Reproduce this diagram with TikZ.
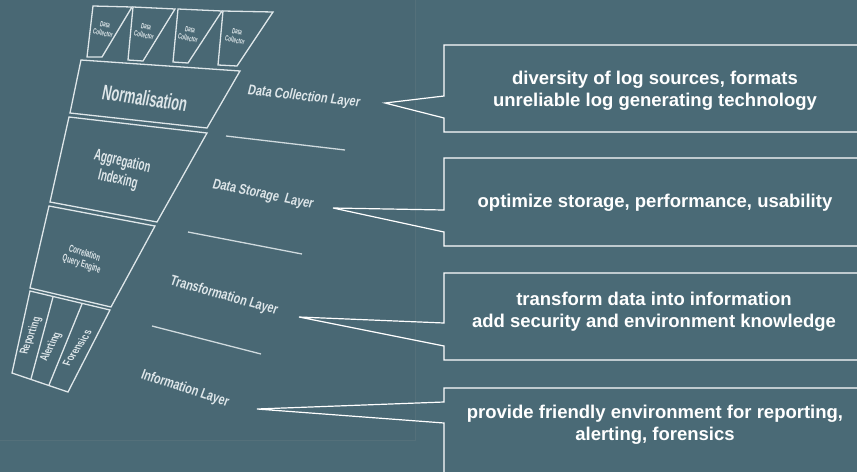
\documentclass[tikz,border=0pt]{standalone}
\usepackage{fontspec}
\setmainfont{Liberation Sans}
\definecolor{bg}{RGB}{74,106,118}
\definecolor{panel}{RGB}{73,104,116}
\definecolor{panelline}{RGB}{84,112,122}
\definecolor{ink}{RGB}{222,230,233}
\begin{document}
\begin{tikzpicture}[x=1pt,y=-1pt,
  funnel/.style={draw=ink, line width=1.3pt, line join=miter},
  sepline/.style={draw=ink!90!bg, line width=1.3pt},
  callout/.style={draw=white, line width=1.2pt, line join=miter},
  calltext/.style={text=white, font=\bfseries\fontsize{18.5}{22}\selectfont, align=center, inner sep=0pt},
  layertext/.style={text=ink, font=\bfseries\fontsize{14}{18}\selectfont, xscale=0.8, xslant=0.22, inner sep=0pt},
  boxtext/.style={text=ink, font=\bfseries\fontsize{#1}{#1}\selectfont, xscale=0.62, xslant=0.25, align=center, inner sep=0pt},
  vtext/.style={text=ink, font=\bfseries\fontsize{8}{9}\selectfont, xscale=1.5, inner sep=0pt}]
\useasboundingbox (0,0) rectangle (857,472);
\clip (0,0) rectangle (857,472);
\fill[bg] (0,0) rectangle (857,472);
\fill[panel] (0,0) rectangle (415,440);
\draw[panelline, line width=0.8pt] (415,0) -- (415,440) -- (0,440);

% data collectors
\draw[funnel] (93,6) -- (132,7) -- (102,57) -- (87,57) -- cycle;
\draw[funnel] (133,7) -- (175,9) -- (143,61) -- (128,60) -- cycle;
\draw[funnel] (178,9) -- (222,11) -- (188,63) -- (173,62) -- cycle;
\draw[funnel] (223,11) -- (273,12) -- (237,66) -- (218,65) -- cycle;
\node[boxtext=7.5, rotate=-8] (dc1) at (104,29) {Data\\[1pt]Collector};
\node[boxtext=7.5, rotate=-8] (dc2) at (145,31) {Data\\[1pt]Collector};
\node[boxtext=7.5, rotate=-8] (dc3) at (189,34) {Data\\[1pt]Collector};
\node[boxtext=7.5, rotate=-8] (dc4) at (236,36) {Data\\[1pt]Collector};

% funnel layers
\draw[funnel] (81,60) -- (240,71) -- (207,128) -- (70,113) -- cycle;
\draw[funnel] (69,117) -- (207,133) -- (157,222) -- (50,202) -- cycle;
\draw[funnel] (49,206) -- (155,226) -- (111,307) -- (30,288) -- cycle;
\draw[funnel] (30,291) -- (110,310) -- (68,392) -- (12,373) -- cycle;
\draw[funnel] (53,297) -- (31,379);
\draw[funnel] (82,304) -- (49,385);

\node[boxtext=21, rotate=-5] (norm) at (145,98) {Normalisation};
\node[boxtext=16, rotate=-8] (agg) at (120,171) {Aggregation\\[2pt]Indexing};
\node[boxtext=10, rotate=-11] (corr) at (83,259) {Correlation\\[1pt]Query Engine};
\node[vtext, rotate=76] (rep) at (31,336) {Reporting};
\node[vtext, rotate=71] (ale) at (51,347) {Alerting};
\node[vtext, rotate=66] (for) at (77,348) {Forensics};

% layer labels and separators
\node[layertext, rotate=-5] (l1) at (304,97) {Data Collection Layer};
\draw[sepline] (226,136) -- (345,150);
\node[layertext, rotate=-9] (l2) at (263,195) {Data Storage \ Layer};
\draw[sepline] (188,232) -- (302,254);
\node[layertext, rotate=-12] (l3) at (224,296) {Transformation Layer};
\draw[sepline] (152,326) -- (261,354);
\node[layertext, rotate=-14] (l4) at (185,389) {Information Layer};

% callouts
\coordinate (p1) at (385,103);
\coordinate (p2) at (333,208);
\coordinate (p3) at (299,317);
\coordinate (p4) at (257,409);
\draw[callout] (870,45) -- (444,45) -- (444,96) -- (p1) -- (444,118) -- (444,132) -- (870,132);
\draw[callout] (870,158) -- (444,158) -- (444,210) -- (p2) -- (444,232) -- (444,246) -- (870,246);
\draw[callout] (870,273) -- (444,273) -- (444,323) -- (p3) -- (444,346) -- (444,360) -- (870,360);
\draw[callout] (870,388) -- (444,388) -- (444,402) -- (p4) -- (444,423) -- (444,490);

\node[calltext] (t1) at (655,91) {diversity of log sources, formats\\unreliable log generating technology};
\node[calltext] (t2) at (655,203) {optimize storage, performance, usability};
\node[calltext] (t3) at (654,312) {transform data into information\\add security and environment knowledge};
\node[calltext] (t4) at (655,425) {provide friendly environment for reporting,\\alerting, forensics};
\end{tikzpicture}
\end{document}
